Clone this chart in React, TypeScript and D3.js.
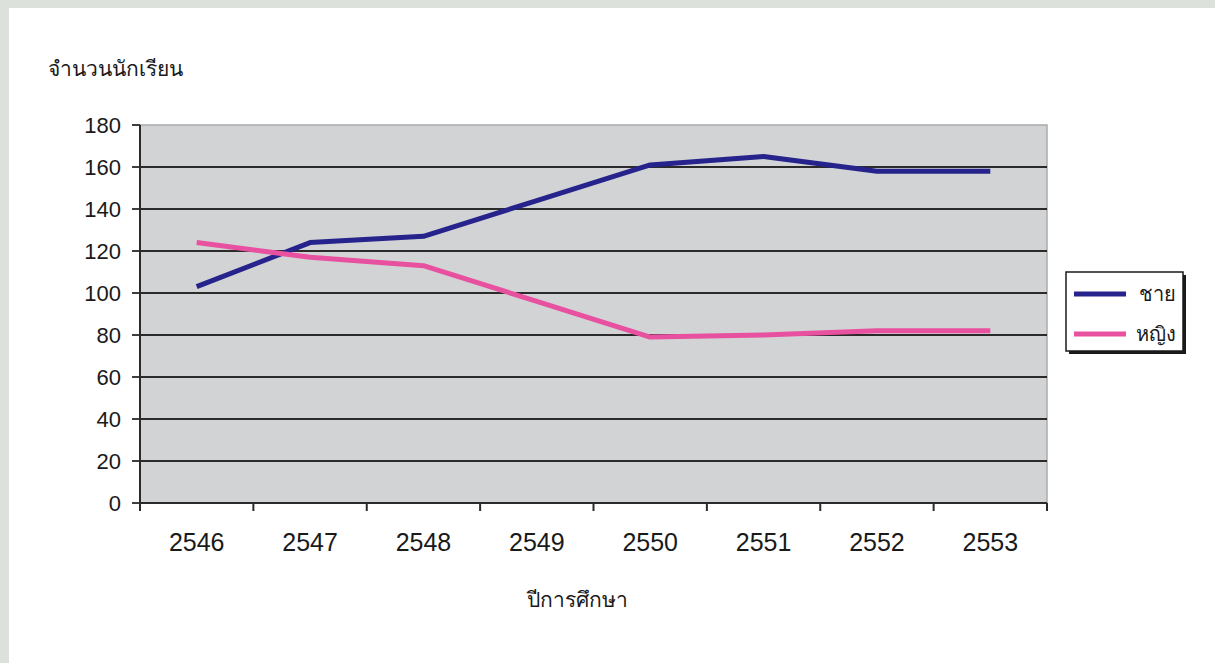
import React from "react";
import * as d3 from "d3";

const years = ["2546", "2547", "2548", "2549", "2550", "2551", "2552", "2553"];
const male = [103, 124, 127, 144, 161, 165, 158, 158];
const female = [124, 117, 113, 96, 79, 80, 82, 82];
const yTicks = [0, 20, 40, 60, 80, 100, 120, 140, 160, 180];

const seriesNames = ["ชาย", "หญิง"];
const seriesColors = ["#27238c", "#e8519f"];

const W = 1215;
const H = 663;
const plot = { left: 140, right: 1047, top: 125, bottom: 503 };

export default function App() {
  const x = d3.scaleBand<string>().domain(years).range([plot.left, plot.right]);
  const y = d3.scaleLinear().domain([0, 180]).range([plot.bottom, plot.top]);
  const line = d3
    .line<number>()
    .x((_, i) => (x(years[i]) ?? 0) + x.bandwidth() / 2)
    .y((v) => y(v));

  const font = "'Liberation Sans', Arial, sans-serif";
  const boundaries = years.map((yr) => x(yr) ?? 0).concat([plot.right]);
  const series = [male, female];

  return (
    <svg
      width={W}
      height={H}
      style={{ position: "absolute", left: 0, top: 0 }}
      fontFamily={font}
    >
      <rect x={0} y={0} width={W} height={H} fill="#dde1db" />
      <rect x={9} y={8} width={W - 9} height={H - 8} fill="#ffffff" />

      <text x={48} y={76} fontSize={21} fill="#1a1a1a">
        จำนวนนักเรียน
      </text>

      {/* plot area */}
      <rect
        x={plot.left}
        y={plot.top}
        width={plot.right - plot.left}
        height={plot.bottom - plot.top}
        fill="#d2d3d4"
        stroke="#a9abac"
        strokeWidth={1.5}
      />
      {yTicks.map((t) => (
        <g key={t}>
          {t > 0 && t < 180 && (
            <line
              x1={plot.left}
              x2={plot.right}
              y1={y(t)}
              y2={y(t)}
              stroke="#2a2a2a"
              strokeWidth={1.8}
            />
          )}
          <line x1={plot.left - 8} x2={plot.left} y1={y(t)} y2={y(t)} stroke="#2a2a2a" strokeWidth={1.8} />
          <text
            x={plot.left - 19}
            y={y(t)}
            dy="0.36em"
            textAnchor="end"
            fontSize={22}
            fill="#1a1a1a"
          >
            {t}
          </text>
        </g>
      ))}
      <line x1={plot.left} x2={plot.left} y1={plot.top} y2={plot.bottom + 8} stroke="#2a2a2a" strokeWidth={2} />
      <line x1={plot.left} x2={plot.right} y1={plot.bottom} y2={plot.bottom} stroke="#2a2a2a" strokeWidth={2} />
      {boundaries.map((bx, i) => (
        <line key={i} x1={bx} x2={bx} y1={plot.bottom} y2={plot.bottom + 8} stroke="#2a2a2a" strokeWidth={2} />
      ))}
      {years.map((yr) => (
        <text
          key={yr}
          x={(x(yr) ?? 0) + x.bandwidth() / 2}
          y={551}
          textAnchor="middle"
          fontSize={25}
          fill="#1a1a1a"
        >
          {yr}
        </text>
      ))}

      {series.map((s, i) => (
        <path
          key={i}
          d={line(s) ?? ""}
          fill="none"
          stroke={seriesColors[i]}
          strokeWidth={5}
          strokeLinejoin="round"
        />
      ))}

      <text x={577} y={607} textAnchor="middle" fontSize={21} fill="#1a1a1a">
        ปีการศึกษา
      </text>

      {/* legend */}
      <rect x={1069} y={275} width={117} height={79} fill="#1a1a1a" />
      <rect x={1066} y={272} width={117} height={79} fill="#ffffff" stroke="#1a1a1a" strokeWidth={1.5} />
      {seriesNames.map((n, i) => (
        <g key={n}>
          <line
            x1={1074}
            x2={1126}
            y1={294 + i * 40}
            y2={294 + i * 40}
            stroke={seriesColors[i]}
            strokeWidth={5}
          />
          <text x={1176} y={301 + i * 40} textAnchor="end" fontSize={20} fill="#1a1a1a">
            {n}
          </text>
        </g>
      ))}
    </svg>
  );
}
